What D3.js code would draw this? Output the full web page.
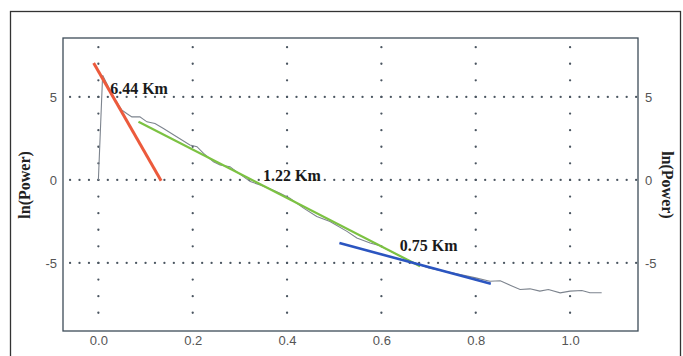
<!DOCTYPE html>
<html>
<head>
<meta charset="utf-8">
<script src="https://cdn.jsdelivr.net/npm/d3@7"></script>
<style>
  body { margin: 0; background: #fff; }
  svg { display: block; }
  .tick-label { font-family: Arial, "Liberation Sans", sans-serif; font-size: 13px; fill: #555; }
  .axis-title { font-family: "Liberation Serif", "Times New Roman", serif; font-size: 16px; font-weight: bold; fill: #222; }
  .note { font-family: "Liberation Serif", "Times New Roman", serif; font-size: 16px; font-weight: bold; fill: #1a1a1a; }
</style>
</head>
<body>
<svg id="chart" width="683" height="356"></svg>
<script>
// measured curve: frequency vs ln(power)
const curveX = [0, 0.009, 0.03, 0.05, 0.06, 0.071, 0.088, 0.103, 0.12, 0.138, 0.166, 0.194, 0.209, 0.223, 0.244,
    0.258, 0.279, 0.3, 0.322, 0.343, 0.365, 0.385, 0.406, 0.435, 0.463, 0.491, 0.527, 0.548, 0.576, 0.597,
    0.633, 0.661, 0.7, 0.75, 0.8, 0.83, 0.852, 0.873, 0.894, 0.915, 0.936, 0.954, 0.979, 1.0, 1.025, 1.042, 1.067];
const curveY = [0, 6.3, 5.1, 4.2, 4.0, 3.8, 3.8, 3.5, 3.4, 3.1, 2.6, 2.1, 2.0, 1.6, 1.1,
    0.9, 0.8, 0.35, -0.1, -0.3, -0.55, -0.8, -1.1, -1.7, -2.2, -2.5, -3.1, -3.5, -3.8, -3.96,
    -4.5, -4.9, -5.3, -5.6, -5.9, -6.1, -6.07, -6.34, -6.6, -6.56, -6.7, -6.6, -6.8, -6.7, -6.66, -6.8, -6.8];

// fitted segments [x0, y0, x1, y1]
const fitNames = ['6.44 Km', '1.22 Km', '0.75 Km'];
const fitLines = [
    [-0.01, 7.05, 0.133, -0.05],
    [0.085, 3.5, 0.682, -5.2],
    [0.511, -3.8, 0.832, -6.26]
];
const fitColors = ['#ec5a3c', '#7cc242', '#2b55c0'];
const fitWidths = [3, 2.2, 2.6];
const notePos = [[0.025, 5.15], [0.349, -0.06], [0.639, -4.3]];

const xTicks = [0.0, 0.2, 0.4, 0.6, 0.8, 1.0];
const yTicks = [5, 0, -5];

const svg = d3.select('#chart');
const plot = {left: 63, right: 638, top: 38, bottom: 331};

const x = d3.scaleLinear().domain([-0.075, 1.144]).range([plot.left, plot.right]);
const y = d3.scaleLinear().domain([-9.1, 8.55]).range([plot.bottom, plot.top]);

// outer frame
svg.append('rect')
    .attr('x', 10.5).attr('y', 11.5)
    .attr('width', 670).attr('height', 360)
    .style('fill', 'none').style('stroke', '#333').style('stroke-width', 1.3);

// dotted grid
const gridDots = [];
xTicks.forEach(t => {
    d3.range(-8, 9).forEach(v => gridDots.push([t, v]));
});
yTicks.forEach(v => {
    d3.range(-3, 58).forEach(k => gridDots.push([k * 0.02, v]));
});
svg.append('g')
    .selectAll('circle')
    .data(gridDots)
    .enter()
    .append('circle')
        .attr('cx', d => x(d[0]))
        .attr('cy', d => y(d[1]))
        .attr('r', 1.15)
        .style('fill', '#4a5560');

// plot box
svg.append('rect')
    .attr('x', plot.left).attr('y', plot.top)
    .attr('width', plot.right - plot.left).attr('height', plot.bottom - plot.top)
    .style('fill', 'none').style('stroke', '#3d4c58').style('stroke-width', 1.3);

// axes (labels only, box drawn above)
const bottomAxis = svg.append('g')
    .attr('transform', `translate(0, ${plot.bottom})`)
    .call(d3.axisBottom(x).tickValues(xTicks).tickFormat(d3.format('.1f')).tickSize(0).tickPadding(5));
const leftAxis = svg.append('g')
    .attr('transform', `translate(${plot.left}, 0)`)
    .call(d3.axisLeft(y).tickValues(yTicks).tickSize(0).tickPadding(6));
const rightAxis = svg.append('g')
    .attr('transform', `translate(${plot.right}, 0)`)
    .call(d3.axisRight(y).tickValues(yTicks).tickSize(0).tickPadding(7));

[bottomAxis, leftAxis, rightAxis].forEach(a => {
    a.select('.domain').remove();
    a.selectAll('text')
        .attr('class', 'tick-label')
        .attr('fill', null);
    a.attr('font-family', null).attr('font-size', null);
});
leftAxis.selectAll('text').text(d => d);
rightAxis.selectAll('text').text(d => d);

// axis titles
svg.append('text')
    .attr('class', 'axis-title')
    .attr('transform', `translate(30, ${y(-0.3)}) rotate(-90)`)
    .attr('text-anchor', 'middle')
    .text('ln(Power)');
svg.append('text')
    .attr('class', 'axis-title')
    .attr('transform', `translate(662, ${y(-0.3)}) rotate(90)`)
    .attr('text-anchor', 'middle')
    .text('ln(Power)');

// data curve
const line = d3.line().x(d => x(d[0])).y(d => y(d[1]));
svg.append('path')
    .datum(d3.zip(curveX, curveY))
    .attr('d', line)
    .style('fill', 'none')
    .style('stroke', '#7d848e')
    .style('stroke-width', 1.1);

// fitted lines
svg.append('g')
    .selectAll('line')
    .data(fitLines)
    .enter()
    .append('line')
        .attr('x1', d => x(d[0]))
        .attr('y1', d => y(d[1]))
        .attr('x2', d => x(d[2]))
        .attr('y2', d => y(d[3]))
        .style('stroke', (d, i) => fitColors[i])
        .style('stroke-width', (d, i) => fitWidths[i]);

// labels
svg.append('g')
    .selectAll('text')
    .data(fitNames)
    .enter()
    .append('text')
        .attr('class', 'note')
        .attr('x', (d, i) => x(notePos[i][0]))
        .attr('y', (d, i) => y(notePos[i][1]))
        .text(d => d);
</script>
</body>
</html>
